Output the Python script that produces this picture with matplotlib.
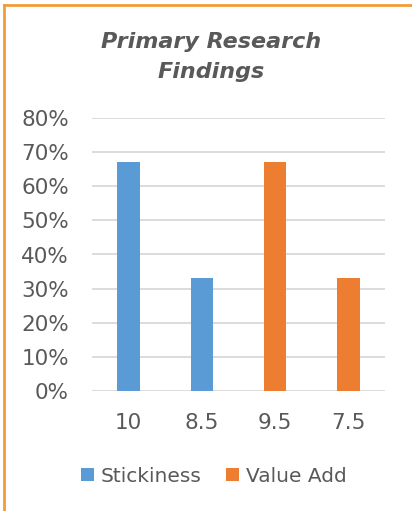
import numpy as np
import matplotlib.pyplot as plt
from matplotlib.lines import Line2D

categories = ['10', '8.5', '9.5', '7.5']
stickiness = [0.67, 0.33, 0, 0]
value_add = [0, 0, 0.67, 0.33]
yticks = [0, 0.1, 0.2, 0.3, 0.4, 0.5, 0.6, 0.7, 0.8]

text_col = '#595959'
W, H = 412, 511
fig = plt.figure(figsize=(W / 100, H / 100), dpi=100)
ax = fig.add_axes([92 / W, (H - 391) / H, 293 / W, 273 / H])

x = np.arange(len(categories))
ax.bar(x, stickiness, width=0.31, color='#5B9BD5', label='Stickiness', zorder=3)
ax.bar(x, value_add, width=0.31, color='#ED7D31', label='Value Add', zorder=3)

ax.set_xlim(-0.5, 3.5)
ax.set_ylim(0, 0.8)
ax.set_yticks(yticks)
ax.set_yticklabels(['%d%%' % round(v * 100) for v in yticks])
ax.set_xticks(x)
ax.set_xticklabels(categories)
ax.tick_params(length=0, labelsize=15.5, labelcolor=text_col)
ax.tick_params(axis='y', pad=16.5)
ax.tick_params(axis='x', pad=16)
ax.grid(axis='y', color='#d9d9d9', linewidth=1.3, zorder=0)
for s in ax.spines.values():
    s.set_visible(False)

fig.text(211 / W, 1 - 42 / H, 'Primary Research', ha='center', va='center',
         fontsize=16, fontweight='bold', fontstyle='italic', color=text_col,
         family='DejaVu Sans')
fig.text(211 / W, 1 - 72 / H, 'Findings', ha='center', va='center',
         fontsize=16, fontweight='bold', fontstyle='italic', color=text_col,
         family='DejaVu Sans')

fig.legend(loc='center', bbox_to_anchor=(214 / W, 1 - 476 / H), ncol=2, frameon=False,
           fontsize=14.5, labelcolor=text_col, handlelength=0.65, handleheight=0.65,
           handletextpad=0.35, columnspacing=1.2)

# orange chart border (left and top edges visible)
fig.add_artist(Line2D([3.5 / W, 3.5 / W], [0, 1 - 5 / H], color='#F19C38', lw=2))
fig.add_artist(Line2D([3.5 / W, 1], [1 - 5 / H, 1 - 5 / H], color='#F19C38', lw=2))

fig.savefig('out.png', dpi=100)
